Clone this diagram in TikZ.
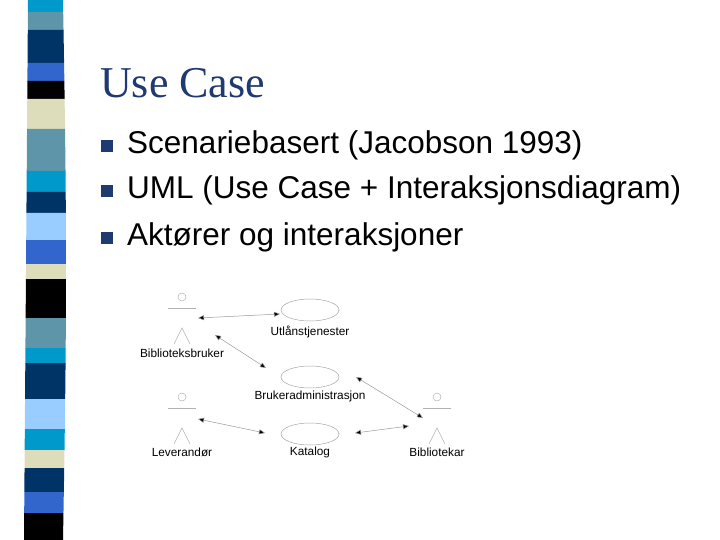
\documentclass[tikz,border=0pt]{standalone}
\usepackage{fontspec}
\setmainfont{Liberation Sans}
\newfontfamily\titlefont{Liberation Serif}
\usetikzlibrary{arrows.meta,shapes.geometric}
\definecolor{cA}{HTML}{0099CC}
\definecolor{cB}{HTML}{5F95A8}
\definecolor{cC}{HTML}{003366}
\definecolor{cD}{HTML}{3366CC}
\definecolor{cE}{HTML}{000000}
\definecolor{cF}{HTML}{DDDDBB}
\definecolor{cG}{HTML}{99CCFF}
\definecolor{titlec}{HTML}{1F3A70}
\begin{document}
\begin{tikzpicture}[x=1pt,y=-1pt,
  uc/.style={draw=gray!70,line width=0.5pt,ellipse,minimum width=58pt,minimum height=22pt,inner sep=0pt},
  lbl/.style={font=\fontsize{11.8}{13}\selectfont,inner sep=1pt},
  act/.style={draw=gray!60,line width=0.5pt},
  rel/.style={draw=gray!80,line width=0.5pt,{Triangle[length=6pt,width=5pt,fill=black]}-{Triangle[length=6pt,width=5pt,fill=black]}},
  bul/.style={fill=titlec,minimum size=12.5pt,inner sep=0pt},
  btxt/.style={anchor=west,inner sep=0pt,font=\fontsize{31.5}{34}\selectfont}]
\useasboundingbox (0,0) rectangle (720,540);
% stripe
\foreach \a/\b/\cc in {0/4/cA,4/10/cB,10/21/cC,21/27/cD,27/33/cE,33/43/cF,43/57/cB,57/64/cA,64/71/cC,71/80/cG,80/88/cD,88/93/cF,93/106/cE,106/116/cB,116/121/cA,121/133/cC,133/143/cG,143/150/cA,150/156/cF,156/164/cC,164/171/cD,171/180/cE}{
  \pgfmathsetmacro\ya{\a*3}\pgfmathsetmacro\yb{\b*3}
  \pgfmathsetmacro\la{28-4*(\a/180)}\pgfmathsetmacro\lb{28-4*(\b/180)}
  \pgfmathsetmacro\ra{63+3*sin(\a)}\pgfmathsetmacro\rb{63+3*sin(\b)}
  \fill[\cc] (\la,\ya) -- (\ra,\ya) -- (\rb,\yb) -- (\lb,\yb) -- cycle;}
% title
\node[anchor=base west,inner sep=0pt,text=titlec,font=\titlefont\fontsize{44}{44}\selectfont] (title) at (100,98) {Use Case};
\node[bul] (b1) at (107,146) {};
\node[bul] (b2) at (107,191) {};
\node[bul] (b3) at (107,238) {};
\node[btxt] (t1) at (127,145) {Scenariebasert (Jacobson 1993)};
\node[btxt] (t2) at (127,190) {UML (Use Case + Interaksjonsdiagram)};
\node[btxt] (t3) at (127,237) {Aktører og interaksjoner};
% actors
\foreach \n/\x/\y in {ab/182/297,al/182/397,ak/437/397}{
  \draw[act] (\x,\y) circle (4pt);
  \draw[act] (\x-14,\y+11) -- (\x+14,\y+11);
  \draw[act] (\x-8,\y+47) -- (\x,\y+31) -- (\x+8,\y+47);
  \coordinate (\n) at (\x,\y+21);}
\node[lbl] (lab) at (182,353) {Biblioteksbruker};
\node[lbl] (lal) at (182,452) {Leverandør};
\node[lbl] (lak) at (437,452) {Bibliotekar};
% use cases
\node[uc] (u1) at (310,310) {};
\node[uc] (u2) at (310,377) {};
\node[uc] (u3) at (310,434) {};
\node[lbl] (l1) at (310,332) {Utlånstjenester};
\node[lbl] (l2) at (310,396) {Brukeradministrasjon};
\node[lbl] (l3) at (310,452) {Katalog};
% relations
\coordinate (p1) at (198,318); \coordinate (q1) at (280,314);
\coordinate (p2) at (215,335); \coordinate (q2) at (266,368);
\coordinate (p3) at (356,377); \coordinate (q3) at (423,418);
\coordinate (p4) at (198,419); \coordinate (q4) at (265,433);
\coordinate (p5) at (355,433); \coordinate (q5) at (409,426);
\draw[rel] (p1) -- (q1);
\draw[rel] (p2) -- (q2);
\draw[rel] (p3) -- (q3);
\draw[rel] (p4) -- (q4);
\draw[rel] (p5) -- (q5);
\end{tikzpicture}
\end{document}
